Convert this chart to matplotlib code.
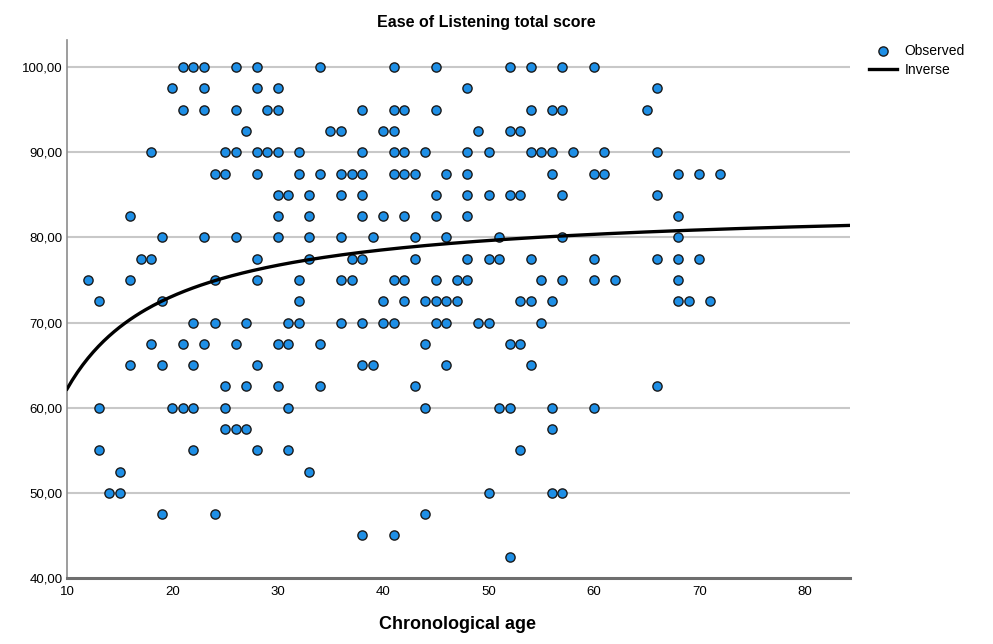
import matplotlib.pyplot as plt
import numpy as np


# observed points, grouped by score row
score_rows = [100, 97.5, 95, 92.5, 90, 87.5, 85, 82.5, 80, 77.5, 75, 72.5,
              70, 67.5, 65, 62.5, 60, 57.5, 55, 52.5, 50, 47.5, 45, 42.5]
age_rows = [
    [21, 22, 23, 26, 28, 34, 41, 45, 52, 54, 57, 60],
    [20, 23, 28, 30, 48, 66],
    [21, 23, 26, 29, 30, 38, 41, 42, 45, 54, 56, 57, 65],
    [27, 35, 36, 40, 41, 49, 52, 53],
    [18, 25, 26, 28, 29, 30, 32, 38, 41, 42, 44, 48, 50, 54, 55, 56, 58, 61, 66],
    [24, 25, 28, 32, 34, 36, 37, 38, 41, 42, 43, 46, 48, 56, 60, 61, 68, 70, 72],
    [30, 31, 33, 36, 38, 45, 48, 50, 52, 53, 57, 66],
    [16, 30, 33, 38, 40, 42, 45, 48, 68],
    [19, 23, 26, 30, 33, 36, 39, 43, 46, 51, 57, 68],
    [17, 18, 28, 33, 37, 38, 43, 48, 50, 51, 54, 60, 66, 68, 70],
    [12, 16, 24, 28, 32, 36, 37, 41, 42, 45, 47, 48, 55, 57, 60, 62, 68],
    [13, 19, 32, 40, 42, 44, 45, 46, 47, 53, 54, 56, 68, 69, 71],
    [22, 24, 27, 31, 32, 36, 38, 40, 41, 45, 46, 49, 50, 55],
    [18, 21, 23, 26, 30, 31, 34, 44, 52, 53],
    [16, 19, 22, 28, 38, 39, 46, 54],
    [25, 27, 30, 34, 43, 66],
    [13, 20, 21, 22, 25, 31, 44, 51, 52, 56, 60],
    [25, 26, 27, 56],
    [13, 22, 28, 31, 53],
    [15, 33],
    [14, 15, 50, 56, 57],
    [19, 24, 44],
    [38, 41],
    [52],
]

ages = np.array([a for row in age_rows for a in row])
scores = np.array([s for s, row in zip(score_rows, age_rows) for _ in row])

# inverse model: score = b0 + b1 / age
b0 = 84.0
b1 = -218.0

x_ticks = [10, 20, 30, 40, 50, 60, 70, 80]
y_ticks = [40, 50, 60, 70, 80, 90, 100]

sans = ["Liberation Sans", "DejaVu Sans"]

fig = plt.figure(figsize=(9.93, 6.44), dpi=100)
ax = fig.add_axes([0.0675, 0.1025, 0.7885, 0.8355])

for y in y_ticks[1:]:
    ax.axhline(y, color="#c8c8c8", lw=1.5, zorder=0)

ax.scatter(ages, scores, s=44, c="#1e8fe6", edgecolors="#1a1a1a",
           linewidths=1.0, zorder=3, label="Observed")

t = np.linspace(10, 84.3, 300)
ax.plot(t, b0 + b1 / t, color="black", lw=2.4, zorder=4, label="Inverse")

ax.set_xlim(10, 84.3)
ax.set_ylim(40, 103.2)
ax.set_xticks(x_ticks)
ax.set_yticks(y_ticks)
ax.set_xticklabels([str(v) for v in x_ticks], family=sans, fontsize=9.5)
ax.set_yticklabels(["%d,00" % v for v in y_ticks], family=sans, fontsize=9.5)
ax.tick_params(axis="x", length=0, pad=6)
ax.tick_params(axis="y", length=0, pad=3)

for s in ["top", "right"]:
    ax.spines[s].set_visible(False)
ax.spines["left"].set_color("#8c8c8c")
ax.spines["left"].set_linewidth(1.2)
ax.spines["bottom"].set_color("#6e6e6e")
ax.spines["bottom"].set_linewidth(2.2)

# SPSS centres the title over the whole chart, the axis label under the plot
fig.text(0.49, 0.965, "Ease of Listening total score", family=sans,
         fontsize=11.5, fontweight="bold", ha="center", va="center")
fig.text(0.4605, 0.017, "Chronological age", family=sans, fontsize=13,
         fontweight="bold", ha="center", va="bottom")

leg = fig.legend(loc="upper left", bbox_to_anchor=(0.875, 0.932), frameon=False,
                 handlelength=2.0, handletextpad=0.55, labelspacing=0.4,
                 borderaxespad=0, borderpad=0, prop={"family": sans, "size": 10})

plt.savefig("out.png", dpi=100)
